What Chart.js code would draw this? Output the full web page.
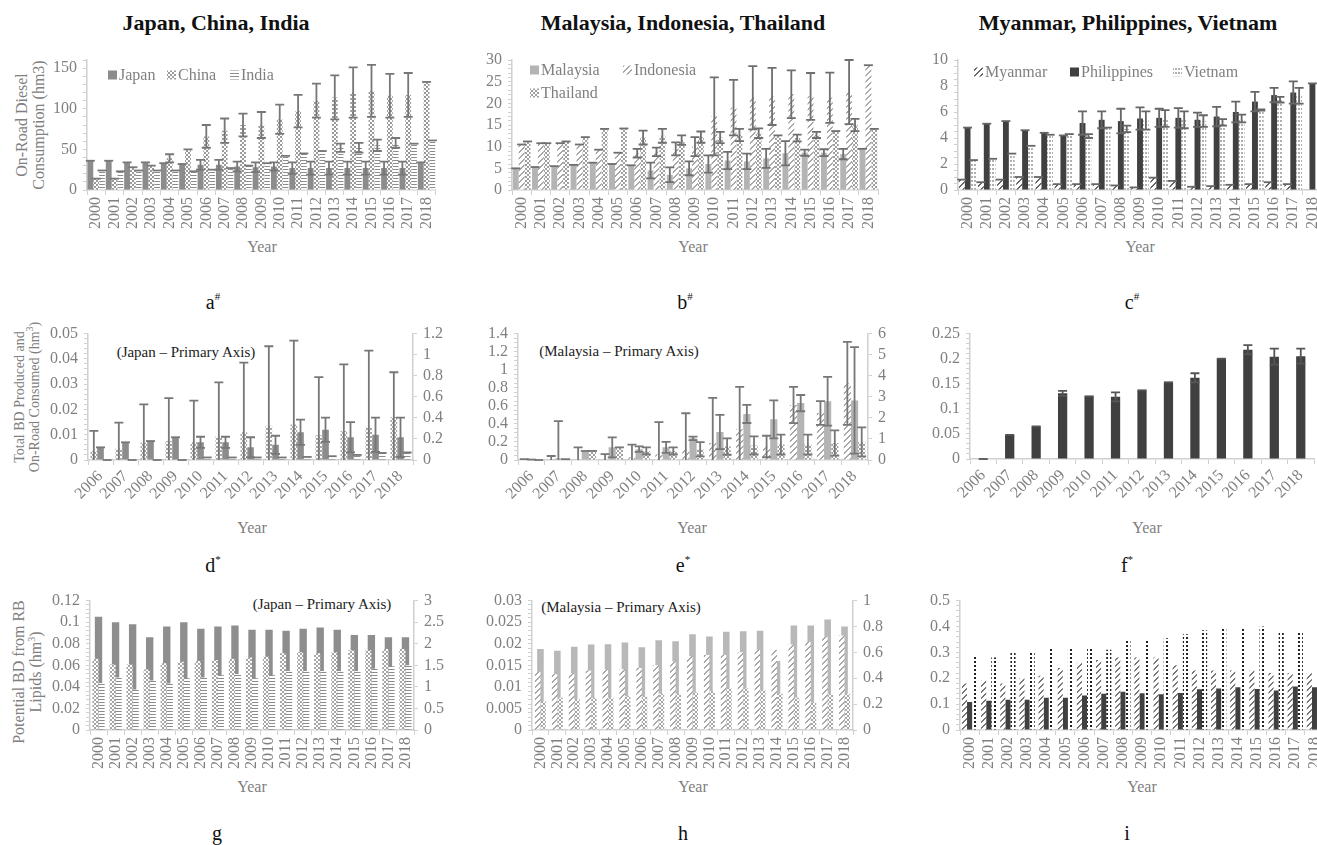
<!DOCTYPE html>
<html>
<head>
<meta charset="utf-8">
<script src="https://cdn.jsdelivr.net/npm/chart.js@4.4.1/dist/chart.umd.min.js"></script>
<style>
body { margin: 0; width: 1317px; height: 845px; overflow: hidden; background: #fff; position: relative;
       font-family: "Liberation Serif", "Times New Roman", serif; }
canvas { position: absolute; }
.t { position: absolute; white-space: nowrap; transform: translate(-50%, -50%); }
.title { font-weight: bold; font-size: 22px; color: #111; }
.cap { font-size: 20px; color: #111; }
.cap sup { font-size: 11px; vertical-align: 9px; line-height: 0; }
.ax { font-size: 16px; color: #808080; }
.rot { transform: translate(-50%, -50%) rotate(-90deg); text-align: center; line-height: 17px; }
.rot sup { font-size: 10px; vertical-align: 6px; line-height: 0; }
.small { font-size: 14px; line-height: 15px; }
.note { font-size: 15px; color: #222; }
</style>
</head>
<body>

<div class="t title" style="left:216px;top:23px">Japan, China, India</div>
<div class="t title" style="left:683px;top:23px">Malaysia, Indonesia, Thailand</div>
<div class="t title" style="left:1128px;top:23px">Myanmar, Philippines, Vietnam</div>

<div class="t ax rot" style="left:30px;top:125px">On-Road Diesel<br>Consumption (hm3)</div>
<div class="t ax rot small" style="left:27px;top:397px">Total BD Produced and<br>On-Road Consumed (hm<sup>3</sup>)</div>
<div class="t ax rot" style="left:27px;top:672px">Potential BD from RB<br>Lipids (hm<sup>3</sup>)</div>

<div class="t ax" style="left:262px;top:247px">Year</div>
<div class="t ax" style="left:693px;top:247px">Year</div>
<div class="t ax" style="left:1140px;top:247px">Year</div>
<div class="t ax" style="left:252px;top:528px">Year</div>
<div class="t ax" style="left:692px;top:528px">Year</div>
<div class="t ax" style="left:1147px;top:528px">Year</div>
<div class="t ax" style="left:252px;top:787px">Year</div>
<div class="t ax" style="left:693px;top:787px">Year</div>
<div class="t ax" style="left:1142px;top:787px">Year</div>

<div class="t cap" style="left:213px;top:302px">a<sup>#</sup></div>
<div class="t cap" style="left:685px;top:302px">b<sup>#</sup></div>
<div class="t cap" style="left:1132px;top:302px">c<sup>#</sup></div>
<div class="t cap" style="left:213px;top:565px">d<sup>*</sup></div>
<div class="t cap" style="left:683px;top:565px">e<sup>*</sup></div>
<div class="t cap" style="left:1127px;top:565px">f<sup>*</sup></div>
<div class="t cap" style="left:217px;top:833px">g</div>
<div class="t cap" style="left:683px;top:833px">h</div>
<div class="t cap" style="left:1127px;top:833px">i</div>

<div class="t note" style="left:186px;top:352px">(Japan – Primary Axis)</div>
<div class="t note" style="left:619px;top:351px">(Malaysia – Primary Axis)</div>
<div class="t note" style="left:322px;top:604px">(Japan – Primary Axis)</div>
<div class="t note" style="left:621px;top:607px">(Malaysia – Primary Axis)</div>

<script>
// tick labels
const years = ['2000', '2001', '2002', '2003', '2004', '2005', '2006', '2007', '2008', '2009',
               '2010', '2011', '2012', '2013', '2014', '2015', '2016', '2017', '2018'];
const yearsBD = ['2006', '2007', '2008', '2009', '2010', '2011', '2012', '2013', '2014', '2015',
                 '2016', '2017', '2018'];

// a - on-road diesel (hm3)
const aJapan = [36, 36, 34, 34, 33, 32, 31, 31, 29, 28, 29, 27, 27, 27, 27, 27, 27, 27, 34];
const aJapanErr = [0, 0, 0, 0, 0, 0, 6, 6, 6, 6, 5, 7, 8, 8, 8, 8, 8, 8, 0];
const aChina = [14, 14, 28, 30, 39, 50, 66, 73, 80, 80, 87, 97, 110, 114, 120, 122, 116, 117, 133];
const aChinaErr = [0, 0, 0, 0, 5, 0, 14, 15, 14, 16, 18, 20, 21, 27, 31, 32, 27, 27, 0];
const aIndia = [24, 23, 24, 24, 24, 23, 25, 27, 30, 33, 42, 45, 48, 52, 52, 55, 58, 57, 61];
const aIndiaErr = [0, 0, 0, 0, 0, 0, 0, 0, 0, 0, 0, 0, 0, 5, 6, 7, 6, 0, 0];

// b
const bMalaysia = [5, 5.3, 5.5, 5.8, 6.3, 6, 5.7, 4.5, 3.5, 5, 6, 6.8, 6.6, 7.3, 8.5, 8.6, 8.6, 8.3, 9.5];
const bMalaysiaErr = [0, 0, 0, 0, 0, 0, 0, 1.8, 1.7, 1.6, 2, 2, 1.8, 2.2, 2.8, 0.7, 0.8, 1.2, 0];
const bIndonesia = [10.5, 10.8, 10.8, 10.5, 9.3, 8.6, 8.5, 8.8, 9.5, 10, 17, 19, 21.3, 21.6, 22.1, 21.6, 21.3, 22.6, 28.8];
const bIndonesiaErr = [0, 0, 0, 0, 0, 0, 1, 1, 1.5, 2.2, 9, 6.4, 7.3, 6.6, 5.5, 5.4, 5.8, 7.4, 0];
const bThailand = [11.2, 10.8, 11.2, 12.2, 14.1, 14.2, 12.1, 12.5, 11.5, 12.2, 12.1, 12.7, 13.1, 12.6, 12, 12.7, 13.6, 15, 14.1];
const bThailandErr = [0, 0, 0, 0, 0, 0, 1.6, 1.6, 1.1, 1.3, 1.3, 1.4, 1.1, 0, 0.8, 0.7, 0, 1.4, 0];

// c
const cMyanmar = [0.8, 0.6, 0.8, 1.0, 1.0, 0.45, 0.45, 0.45, 0.35, 0.2, 0.95, 0.7, 0.25, 0.3, 0.4, 0.45, 0.6, 0.45, null];
const cPhilippines = [4.8, 5.1, 5.3, 4.6, 4.4, 4.2, 5.15, 5.4, 5.3, 5.5, 5.55, 5.55, 5.4, 5.65, 6.0, 6.8, 7.3, 7.5, 8.2];
const cPhilippinesErr = [0, 0, 0, 0, 0, 0, 0.9, 0.65, 0.95, 0.85, 0.7, 0.75, 0.55, 0.75, 0.8, 0.75, 0.55, 0.85, 0];
const cVietnam = [2.3, 2.4, 2.8, 3.4, 4.25, 4.3, 4.15, 4.8, 4.7, 5.35, 5.5, 5.4, 5.3, 5.2, 5.5, 6.15, 6.95, 7.25, null];
const cVietnamErr = [0, 0, 0, 0, 0, 0, 0.15, 0, 0.25, 0.7, 0.65, 0.65, 0.45, 0.25, 0.3, 0.05, 0.22, 0.6, 0];

// d - BD produced/consumed (Japan primary, China & India secondary)
const dChina = [0.084, 0.108, 0.163, 0.18, 0.168, 0.223, 0.264, 0.324, 0.336, 0.235, 0.276, 0.312, 0.408];
const dChinaErr = [0.192, 0.247, 0.365, 0.408, 0.396, 0.514, 0.66, 0.756, 0.797, 0.552, 0.631, 0.727, 0.425];
const dJapan = [0.005, 0.007, 0.0075, 0.009, 0.007, 0.007, 0.005, 0.006, 0.011, 0.012, 0.009, 0.010, 0.009];
const dJapanErr = [0, 0, 0, 0, 0.0022, 0.0022, 0.004, 0.0036, 0.005, 0.0048, 0.006, 0.0068, 0.0078];
const dIndia = [0, 0, 0, 0, 0.024, 0.024, 0.024, 0.024, 0.029, 0.036, 0.048, 0.067, 0.072];

// e (Malaysia primary, Indonesia & Thailand secondary)
const eIndonesia = [0, 0.02, 0, 0.02, 0.13, 0.26, 0.51, 0.81, 1.46, 0.64, 2.61, 2.23, 3.64];
const eIndonesiaErr = [0.04, 0.17, 0.6, 0.26, 0.6, 1.54, 1.71, 2.14, 2.01, 0.51, 0.86, 0.56, 1.97];
const eMalaysia = [0.005, 0.02, 0.1, 0.14, 0.12, 0.14, 0.24, 0.31, 0.51, 0.45, 0.63, 0.65, 0.66];
const eMalaysiaErr = [0, 0.41, 0, 0.11, 0.03, 0.06, 0.02, 0.19, 0.1, 0.21, 0.09, 0.27, 0.59];
const eThailand = [0, 0.04, 0.43, 0.6, 0.43, 0.43, 0.51, 0.64, 0.69, 0.73, 0.73, 0.81, 0.86];
const eThailandErr = [0, 0, 0, 0, 0.17, 0.17, 0.34, 0.39, 0.43, 0.47, 0.47, 0.6, 0.69];

// f
const fPhilippines = [0, 0.048, 0.065, 0.131, 0.125, 0.124, 0.137, 0.153, 0.162, 0.2, 0.218, 0.204, 0.205];
const fPhilippinesErr = [0, 0, 0, 0.005, 0, 0.009, 0, 0, 0.009, 0, 0.009, 0.016, 0.015];

// g - potential BD from RB lipids (Japan primary, China & India secondary)
const gChina = [1.65, 1.52, 1.52, 1.4, 1.55, 1.58, 1.6, 1.62, 1.65, 1.68, 1.7, 1.78, 1.8, 1.78, 1.8, 1.85, 1.85, 1.88, 1.88];
const gJapan = [0.105, 0.1, 0.098, 0.086, 0.096, 0.1, 0.094, 0.096, 0.097, 0.093, 0.093, 0.092, 0.094, 0.095, 0.093, 0.088, 0.088, 0.086, 0.086];
const gIndia = [1.09, 1.22, 0.94, 1.15, 1.08, 1.2, 1.22, 1.27, 1.3, 1.2, 1.27, 1.37, 1.37, 1.37, 1.37, 1.37, 1.42, 1.48, 1.5];

// h (Malaysia primary, Indonesia & Thailand secondary)
const hIndonesia = [0.45, 0.43, 0.44, 0.46, 0.47, 0.47, 0.48, 0.5, 0.53, 0.57, 0.58, 0.58, 0.6, 0.62, 0.62, 0.66, 0.68, 0.72, 0.73];
const hMalaysia = [0.0188, 0.0184, 0.0193, 0.0198, 0.0199, 0.0203, 0.0192, 0.0208, 0.0206, 0.0222, 0.0217, 0.0228, 0.0229, 0.023, 0.016, 0.0242, 0.0242, 0.0256, 0.024];
const hThailand = [0.22, 0.25, 0.24, 0.25, 0.25, 0.26, 0.26, 0.28, 0.28, 0.29, 0.3, 0.32, 0.32, 0.31, 0.28, 0.25, 0.21, 0.28, 0.28];

// i
const iMyanmar = [0.18, 0.19, 0.18, 0.2, 0.21, 0.24, 0.26, 0.27, 0.28, 0.28, 0.28, 0.25, 0.23, 0.23, 0.23, 0.23, 0.22, 0.22, 0.22];
const iPhilippines = [0.108, 0.113, 0.117, 0.117, 0.125, 0.125, 0.133, 0.14, 0.148, 0.142, 0.138, 0.143, 0.157, 0.16, 0.165, 0.158, 0.153, 0.168, 0.165];
const iVietnam = [0.285, 0.28, 0.305, 0.305, 0.32, 0.315, 0.32, 0.31, 0.345, 0.345, 0.355, 0.37, 0.385, 0.39, 0.395, 0.4, 0.38, 0.375, 0.385];

const SERIF = '"Liberation Serif", "Times New Roman", serif';
const TICK = '#808080';
const AXIS = '#d0d0d0';
const FONT_PX = 16;

// fill patterns for bars
function pattern(kind, color) {
    const c = document.createElement('canvas');
    const size = { checker: [4, 4], hlines: [4, 3], diag: [6, 6], dots: [4, 4], vdash: [3, 4] }[kind];
    c.width = size[0];
    c.height = size[1];
    const g = c.getContext('2d');
    g.fillStyle = '#fff';
    g.fillRect(0, 0, c.width, c.height);
    g.fillStyle = color;
    if (kind === 'checker') {
        g.fillRect(0, 0, 2, 2);
        g.fillRect(2, 2, 2, 2);
    } else if (kind === 'hlines') {
        g.fillRect(0, 0, 4, 1);
    } else if (kind === 'diag') {
        for (let i = 0; i < 6; i++) {
            g.fillRect(i, 5 - i, 1, 1);
            g.fillRect(i, (6 - i) % 6, 1, 1);
        }
    } else {
        g.fillRect(0, 0, 2, 2);
    }
    return g.createPattern(c, 'repeat');
}

// error bars drawn through the dataset's own value scale
const errorBars = {
    id: 'errorBars',
    afterDatasetsDraw(chart) {
        const ctx = chart.ctx;
        chart.data.datasets.forEach((ds, i) => {
            if (!ds.errors) return;
            const meta = chart.getDatasetMeta(i);
            const scale = chart.scales[meta.yAxisID];
            ctx.save();
            ctx.strokeStyle = ds.errorColor || '#777';
            ctx.lineWidth = 1.8;
            meta.data.forEach((bar, j) => {
                const v = ds.data[j];
                if (v === null || v === undefined) return;
                const e = ds.errors[j] || 0;
                const lo = v - e;
                const yHi = scale.getPixelForValue(Math.min(v + e, scale.max));
                const yLo = scale.getPixelForValue(Math.max(lo, scale.min));
                const x = bar.x;
                ctx.beginPath();
                ctx.moveTo(x, yLo);
                ctx.lineTo(x, yHi);
                if (v + e <= scale.max) {
                    ctx.moveTo(x - 4.5, yHi);
                    ctx.lineTo(x + 4.5, yHi);
                }
                if (lo >= scale.min && e > 0) {
                    ctx.moveTo(x - 4.5, yLo);
                    ctx.lineTo(x + 4.5, yLo);
                }
                ctx.stroke();
            });
            ctx.restore();
        });
    }
};

// legend drawn inside the plot area
function insideLegend(items, box) {
    return {
        id: 'insideLegend',
        afterDraw(chart) {
            const ctx = chart.ctx;
            ctx.save();
            items.forEach(it => {
                const ds = chart.data.datasets[it.i];
                const x = it.x - box.x;
                const y = it.y - box.y;
                ctx.fillStyle = ds.backgroundColor;
                ctx.fillRect(x, y - 4.5, 9, 9);
                ctx.fillStyle = TICK;
                ctx.font = FONT_PX + 'px ' + SERIF;
                ctx.textBaseline = 'middle';
                ctx.fillText(ds.label, x + 11, y + 1);
            });
            ctx.restore();
        }
    };
}

function fmt(v) {
    return String(+v.toFixed(6));
}

function valueAxis(o, pos, width) {
    return {
        position: pos,
        min: 0,
        max: o.max,
        grid: { drawOnChartArea: false, tickLength: 4, color: AXIS },
        border: { color: AXIS, width: 1.5 },
        ticks: {
            stepSize: o.minor || o.major,
            autoSkip: false,
            color: TICK,
            font: { family: SERIF, size: FONT_PX },
            padding: 6,
            callback(v) {
                const k = v / o.major;
                return Math.abs(k - Math.round(k)) < 1e-6 ? fmt(v) : '';
            }
        },
        afterFit(s) { s.width = width; }
    };
}

function makePanel(p) {
    const cv = document.createElement('canvas');
    cv.width = p.box.w;
    cv.height = p.box.h;
    cv.style.left = p.box.x + 'px';
    cv.style.top = p.box.y + 'px';
    document.body.appendChild(cv);

    const yW = p.plot.l - p.box.x;
    const xH = p.box.y + p.box.h - p.plot.b;
    const rightW = p.box.x + p.box.w - p.plot.r;

    const scales = {
        x: {
            grid: { offset: true, drawOnChartArea: false, tickLength: 5, color: AXIS },
            border: { color: AXIS, width: 1.5 },
            ticks: {
                color: TICK, font: { family: SERIF, size: FONT_PX },
                minRotation: p.rot, maxRotation: p.rot, autoSkip: false, padding: 2
            },
            afterFit(s) { s.height = xH; }
        },
        y: valueAxis(p.y, 'left', yW)
    };
    if (p.y2) scales.y2 = valueAxis(p.y2, 'right', rightW);

    p.datasets.forEach(ds => {
        if (ds.categoryPercentage === undefined) ds.categoryPercentage = p.cat;
        if (ds.barPercentage === undefined) ds.barPercentage = p.bar;
        ds.borderWidth = 0;
        if (!ds.yAxisID) ds.yAxisID = 'y';
    });

    return new Chart(cv, {
        type: 'bar',
        data: { labels: p.labels, datasets: p.datasets },
        options: {
            responsive: false,
            animation: false,
            layout: { padding: { top: p.plot.t - p.box.y, right: p.y2 ? 0 : rightW, left: 0, bottom: 0 } },
            plugins: { legend: { display: false }, tooltip: { enabled: false } },
            scales: scales
        },
        plugins: [errorBars, insideLegend(p.legend || [], p.box)]
    });
}

// ---- row 1 ----
makePanel({
    box: { x: 0, y: 40, w: 448, h: 225 }, plot: { l: 87, t: 60, r: 439, b: 190 },
    labels: years, rot: 90, cat: 0.95, bar: 1,
    y: { max: 160, major: 50, minor: 10 },
    datasets: [
        { label: 'Japan', data: aJapan, errors: aJapanErr, backgroundColor: '#8c8c8c' },
        { label: 'China', data: aChina, errors: aChinaErr, backgroundColor: pattern('checker', '#9a9a9a') },
        { label: 'India', data: aIndia, errors: aIndiaErr, backgroundColor: pattern('hlines', '#8c8c8c') }
    ],
    legend: [{ i: 0, x: 108, y: 75 }, { i: 1, x: 167, y: 75 }, { i: 2, x: 230, y: 75 }]
});

makePanel({
    box: { x: 445, y: 40, w: 445, h: 225 }, plot: { l: 512, t: 60, r: 878, b: 190 },
    labels: years, rot: 90, cat: 0.92, bar: 1,
    y: { max: 30, major: 5, minor: 1 },
    datasets: [
        { label: 'Malaysia', data: bMalaysia, errors: bMalaysiaErr, backgroundColor: '#b4b4b4', errorColor: '#6f6f6f' },
        { label: 'Indonesia', data: bIndonesia, errors: bIndonesiaErr, backgroundColor: pattern('diag', '#a8a8a8'), errorColor: '#6f6f6f' },
        { label: 'Thailand', data: bThailand, errors: bThailandErr, backgroundColor: pattern('checker', '#a0a0a0'), errorColor: '#6f6f6f' }
    ],
    legend: [{ i: 0, x: 530, y: 70 }, { i: 1, x: 623, y: 70 }, { i: 2, x: 530, y: 93 }]
});

makePanel({
    box: { x: 890, y: 40, w: 452, h: 225 }, plot: { l: 958, t: 60, r: 1322, b: 190 },
    labels: years, rot: 90, cat: 0.92, bar: 1,
    y: { max: 10, major: 2, minor: 0.5 },
    datasets: [
        { label: 'Myanmar', data: cMyanmar, errors: cMyanmar.map(() => 0), backgroundColor: pattern('diag', '#666'), errorColor: '#666' },
        { label: 'Philippines', data: cPhilippines, errors: cPhilippinesErr, backgroundColor: '#404040', errorColor: '#666' },
        { label: 'Vietnam', data: cVietnam, errors: cVietnamErr, backgroundColor: pattern('vdash', '#b0b0b0'), errorColor: '#666' }
    ],
    legend: [{ i: 0, x: 974, y: 72 }, { i: 1, x: 1070, y: 72 }, { i: 2, x: 1173, y: 72 }]
});

// ---- row 2 ----
makePanel({
    box: { x: 0, y: 318, w: 445, h: 232 }, plot: { l: 88, t: 333, r: 413, b: 460 },
    labels: yearsBD, rot: 45, cat: 0.8, bar: 1,
    y: { max: 0.05, major: 0.01, minor: 0.002 },
    y2: { max: 1.2, major: 0.2 },
    datasets: [
        { label: 'China', data: dChina, errors: dChinaErr, yAxisID: 'y2', backgroundColor: pattern('checker', '#a6a6a6') },
        { label: 'Japan', data: dJapan, errors: dJapanErr, backgroundColor: '#8c8c8c' },
        { label: 'India', data: dIndia, errors: dIndia.map(() => 0), yAxisID: 'y2', backgroundColor: pattern('hlines', '#8c8c8c') }
    ]
});

makePanel({
    box: { x: 445, y: 318, w: 450, h: 232 }, plot: { l: 518, t: 333, r: 868, b: 460 },
    labels: yearsBD, rot: 45, cat: 0.8, bar: 1,
    y: { max: 1.4, major: 0.2, minor: 0.05 },
    y2: { max: 6, major: 1 },
    datasets: [
        { label: 'Indonesia', data: eIndonesia, errors: eIndonesiaErr, yAxisID: 'y2', backgroundColor: pattern('diag', '#a8a8a8') },
        { label: 'Malaysia', data: eMalaysia, errors: eMalaysiaErr, backgroundColor: '#b4b4b4' },
        { label: 'Thailand', data: eThailand, errors: eThailandErr, yAxisID: 'y2', backgroundColor: pattern('checker', '#a0a0a0') }
    ]
});

makePanel({
    box: { x: 890, y: 318, w: 440, h: 232 }, plot: { l: 970, t: 333, r: 1314, b: 459 },
    labels: yearsBD, rot: 45, cat: 0.35, bar: 1,
    y: { max: 0.25, major: 0.05, minor: 0.01 },
    datasets: [
        { label: 'Philippines', data: fPhilippines, errors: fPhilippinesErr, backgroundColor: '#404040', errorColor: '#555' }
    ]
});

// ---- row 3 ---- (primary-axis series sits behind, centred, as in the original)
makePanel({
    box: { x: 0, y: 585, w: 445, h: 230 }, plot: { l: 90, t: 600, r: 414, b: 730 },
    labels: years, rot: 90, cat: 0.72, bar: 1,
    y: { max: 0.12, major: 0.02, minor: 0.004 },
    y2: { max: 3, major: 0.5 },
    datasets: [
        { label: 'China', data: gChina, yAxisID: 'y2', backgroundColor: pattern('checker', '#a6a6a6'), order: 0 },
        { label: 'Japan', data: gJapan, backgroundColor: '#8e8e8e', order: 1, grouped: false, barPercentage: 0.6 },
        { label: 'India', data: gIndia, yAxisID: 'y2', backgroundColor: pattern('hlines', '#8c8c8c'), order: 0 }
    ]
});

makePanel({
    box: { x: 445, y: 585, w: 440, h: 230 }, plot: { l: 532, t: 600, r: 853, b: 730 },
    labels: years, rot: 90, cat: 0.65, bar: 1,
    y: { max: 0.03, major: 0.005, minor: 0.001 },
    y2: { max: 1, major: 0.2 },
    datasets: [
        { label: 'Indonesia', data: hIndonesia, yAxisID: 'y2', backgroundColor: pattern('diag', '#a8a8a8'), order: 0 },
        { label: 'Malaysia', data: hMalaysia, backgroundColor: '#b8b8b8', order: 1, grouped: false, barPercentage: 0.6 },
        { label: 'Thailand', data: hThailand, yAxisID: 'y2', backgroundColor: pattern('checker', '#a8a8a8'), order: 0 }
    ]
});

makePanel({
    box: { x: 890, y: 585, w: 452, h: 230 }, plot: { l: 960, t: 600, r: 1324, b: 730 },
    labels: years, rot: 90, cat: 0.8, bar: 1,
    y: { max: 0.5, major: 0.1, minor: 0.02 },
    datasets: [
        { label: 'Myanmar', data: iMyanmar, backgroundColor: pattern('diag', '#777') },
        { label: 'Philippines', data: iPhilippines, backgroundColor: '#404040' },
        { label: 'Vietnam', data: iVietnam, backgroundColor: pattern('dots', '#222') }
    ]
});
</script>
</body>
</html>
